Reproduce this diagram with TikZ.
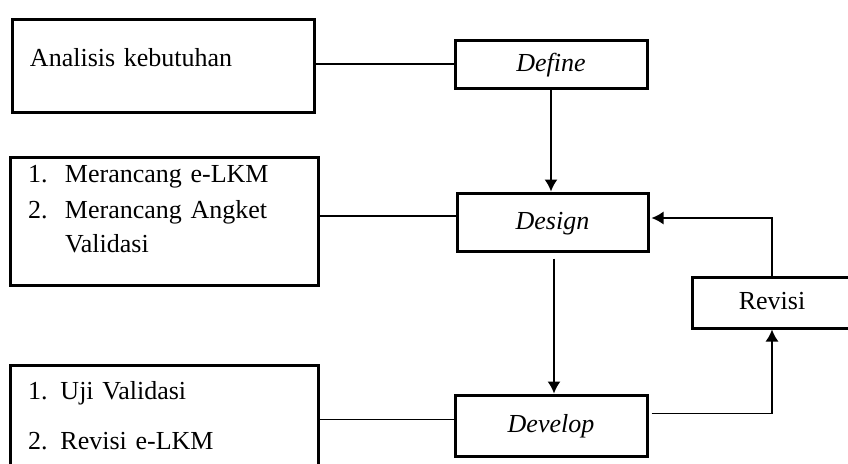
\documentclass[tikz,border=0pt]{standalone}
\usepackage{fontspec}
\setmainfont{Liberation Serif}
\usepackage{tikz}
\usetikzlibrary{arrows.meta}
\usetikzlibrary{calc}
\usetikzlibrary{positioning}
\newcommand{\diagfont}{\fontsize{13}{17}\selectfont\spaceskip=2.2pt plus 1pt minus 0.5pt\relax}

\begin{document}
\begin{tikzpicture}[
  x=0.5pt, y=-0.5pt,
  font=\diagfont,
  > = {Latex[length=6pt,width=6.5pt]},
  box/.style = {draw, line width=1.5pt, inner sep=0pt, text height=8.5pt, text depth=1.5pt},
  lbox/.style = {draw, line width=1.5pt, inner xsep=9pt, inner ysep=0pt, align=left},
  conn/.style = {line width=0.8pt}
  ]
	\useasboundingbox (0,0) rectangle (848,463);
	\clip (0,0) rectangle (848,463);

	% stages
	\node[box, minimum width=96pt, minimum height=24pt]   (define)  at (551,64)    {\textit{Define}};
	\node[box, minimum width=95.5pt, minimum height=29pt] (design)  at (552.5,222) {\textit{Design}};
	\node[box, minimum width=96pt, minimum height=30.5pt] (develop) at (551,425.5) {\textit{Develop}};
	\node[box, minimum width=80pt, minimum height=25.5pt] (revisi)  at (772,302.5) {Revisi};

	% activities
	\node[lbox, text width=133pt, minimum height=46.5pt] (analisis) at (163,65.5)
		{Analisis kebutuhan\rule[-8pt]{0pt}{8pt}};
	\node[lbox, text width=136pt, minimum height=64pt] (rancang) at (164,221)
		{\makebox[18.5pt][l]{1.}Merancang e-LKM\\[1pt]
		 \makebox[18.5pt][l]{2.}Merancang Angket\\
		 \hspace*{18.5pt}Validasi\rule[-12.5pt]{0pt}{12.5pt}};
	\node[lbox, text width=136pt, minimum height=55pt] (uji) at (164,420)
		{1. Uji Validasi\\[8pt]
		 2.\hspace{6.5pt}Revisi e-LKM\rule[-4.5pt]{0pt}{4.5pt}};

	\draw[conn] (define.west) -- (define.west -| analisis.east);
	\draw[conn] ([yshift=3pt]design.west) -- ([yshift=3pt]design.west -| rancang.east);
	\draw[conn] ([yshift=3pt]develop.west) -- ([yshift=3pt]develop.west -| uji.east);

	\draw[conn,->] (define.south) -- (define.south |- design.north);
	\draw[conn,->, shorten <=3pt] ([xshift=0.75pt]design.south) -- ([xshift=0.75pt]design.south |- develop.north);
	\draw[conn,->, shorten <=1.5pt] ([yshift=6pt]develop.east) -| (revisi.south);
	\draw[conn,->, shorten >=1pt] (revisi.north) |- ([yshift=2pt]design.east);

\end{tikzpicture}
\end{document}
